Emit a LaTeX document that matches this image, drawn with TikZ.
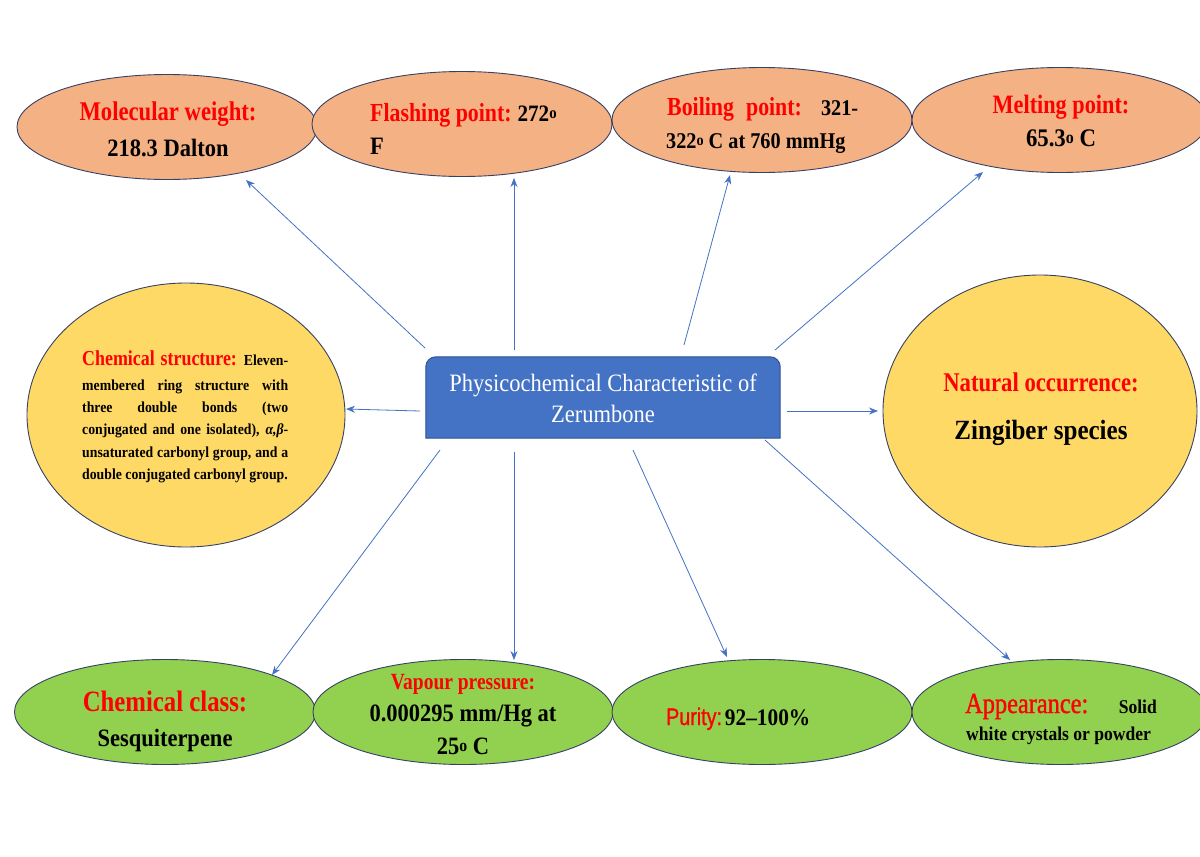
\documentclass[tikz,border=0pt]{standalone}
\usepackage{fontspec}
\usepackage{graphicx}
\usetikzlibrary{shapes.geometric,arrows.meta}
\setmainfont{Liberation Serif}
\newfontfamily\rs{Liberation Serif}[FakeStretch=0.84]
\newfontfamily\rsm{Liberation Serif}[FakeStretch=0.84, FakeBold=1.2]
\newfontfamily\bs{Liberation Serif}[FakeStretch=0.9]
\newfontfamily\ns{Liberation Sans}[FakeStretch=0.82, FakeBold=1]
\newcommand\rl[2]{{\color{red}\rs\bfseries\fontsize{#1}{#1}\selectfont #2}}
\newcommand\rlr[2]{{\color{red}\rsm\fontsize{#1}{#1}\selectfont #2}}
\newcommand\bl[2]{{\bs\bfseries\fontsize{#1}{#1}\selectfont #2}}
\newcommand\dg{\raisebox{0.22ex}{\scalebox{0.7}{o}}}
\definecolor{edge}{RGB}{55,65,100}
\definecolor{orfill}{RGB}{244,177,131}
\definecolor{yefill}{RGB}{255,217,102}
\definecolor{grfill}{RGB}{146,208,80}
\definecolor{boxfill}{RGB}{68,114,196}
\definecolor{boxedge}{RGB}{47,82,143}
\definecolor{arrowc}{RGB}{68,114,196}
\begin{document}
\begin{tikzpicture}[x=1pt,y=1pt,
  ell/.style={ellipse, draw=edge, line width=0.9pt, inner sep=0pt},
  oell/.style={ell, fill=orfill, minimum width=300pt, minimum height=105pt},
  gell/.style={ell, fill=grfill, minimum width=300pt, minimum height=105pt},
  yell/.style={ell, fill=yefill},
  txt/.style={inner sep=0pt, anchor=base},
  txtw/.style={inner sep=0pt, anchor=base west},
  txte/.style={inner sep=0pt, anchor=base east},
  arr/.style={draw=arrowc, line width=0.8pt, -{Stealth[length=9pt,width=7pt]}}]
\useasboundingbox (0,0) rectangle (1200,-857);
\fill[white] (0,0) rectangle (1200,-857);

% top ellipses
\node[oell] (mw) at (167,-127) {};
\node[oell] (fp) at (462,-124) {};
\node[oell] (bp) at (762,-120) {};
\node[oell, minimum width=296pt] (mp) at (1060,-120) {};
% side ellipses
\node[yell, minimum width=318pt, minimum height=264pt] (cs) at (186,-415) {};
\node[yell, minimum width=314pt, minimum height=272pt] (no) at (1040,-411) {};
% bottom ellipses
\node[gell, minimum width=301pt] (cc) at (165,-712) {};
\node[gell] (vp) at (463,-712) {};
\node[gell] (pu) at (762,-712) {};
\node[gell, minimum width=296pt] (ap) at (1060,-712) {};

% central box
\node[inner sep=0pt, minimum width=354pt, minimum height=81pt] (box) at (603,-397.5) {};
\filldraw[fill=boxfill, draw=boxedge, line width=1pt]
  (box.south west) -- ([yshift=-10pt]box.north west)
  arc[start angle=180, end angle=90, radius=10pt]
  -- ([xshift=-10pt]box.north east)
  arc[start angle=90, end angle=0, radius=10pt]
  -- (box.south east) -- cycle;
\node[txt, text=white, font=\bs\fontsize{25}{25}\selectfont] (bx1) at (603,-391) {Physicochemical Characteristic of};
\node[txt, text=white, font=\bs\fontsize{25}{25}\selectfont] (bx2) at (603,-422) {Zerumbone};

% texts top
\node[txt] (mw1) at (168,-120) {\rl{27}{Molecular weight:}};
\node[txt] (mw2) at (168,-156) {\bl{25}{218.3 Dalton}};
\node[txtw] (fp1) at (370,-121) {\rl{26}{Flashing point:}\hspace{6pt}\bl{23.5}{272\dg}};
\node[txtw] (fp2) at (370,-154) {\bl{25}{F}};
\node[txtw, font=\bs\bfseries\fontsize{22.5}{22.5}\selectfont] (bp1) at (667,-115) {\makebox[191pt][s]{\rl{26}{Boiling point:} 321-}};
\node[txtw] (bp2) at (666,-148) {\bl{22.5}{322\dg{} C at 760 mmHg}};
\node[txt] (mp1) at (1061,-113) {\rl{26.5}{Melting point:}};
\node[txt] (mp2) at (1061,-146) {\bl{25.3}{65.3\dg{} C}};

% side texts
\begin{scope}[every node/.append style={font=\bs\bfseries\fontsize{15.3}{15.3}\selectfont}]
\node[txtw] (cs1) at (82,-365) {\makebox[206pt][s]{\rl{21.3}{Chemical structure:} Eleven-}};
\node[txtw] (cs2) at (82,-390) {\makebox[206pt][s]{membered ring structure with}};
\node[txtw] (cs3) at (82,-412) {\makebox[206pt][s]{three double bonds (two}};
\node[txtw] (cs4) at (82,-434) {\makebox[206pt][s]{conjugated and one isolated), \textit{α,β}-}};
\node[txtw] (cs5) at (82,-457) {\makebox[206pt][s]{unsaturated carbonyl group, and a}};
\node[txtw] (cs6) at (82,-479) {double conjugated carbonyl group.};
\end{scope}
\node[txt] (no1) at (1041,-391) {\rl{27}{Natural occurrence:}};
\node[txt] (no2) at (1041,-439) {\bl{27.8}{Zingiber species}};

% bottom texts
\node[txt] (cc1) at (165,-711) {\rl{29.5}{Chemical class:}};
\node[txt] (cc2) at (165,-746) {\bl{25}{Sesquiterpene}};
\node[txt] (vp1) at (463,-689) {\rl{23.2}{Vapour pressure:}};
\node[txt] (vp2) at (463,-721) {\bl{25}{0.000295 mm/Hg at}};
\node[txt] (vp3) at (463,-754) {\bl{25}{25\dg{} C}};
\node[txtw] (pu1) at (666,-725) {{\color{red}\ns\fontsize{24}{24}\selectfont Purity:}\hspace{3pt}\bl{23.7}{92–100\%}};
\node[txtw] (ap1) at (965,-713) {\rlr{29}{Appearance:}};
\node[txte] (ap2) at (1157,-713) {\bl{19.5}{Solid}};
\node[txtw] (ap3) at (966,-740) {\bl{19.5}{white crystals or powder}};

% arrow end points
\coordinate (s1) at (425,-348); \coordinate (e1) at (246,-180);
\coordinate (s2) at (514,-350); \coordinate (e2) at (514,-178);
\coordinate (s3) at (684,-345); \coordinate (e3) at (730,-175);
\coordinate (s4) at (775,-350); \coordinate (e4) at (983,-172);
\coordinate (s5) at (420,-411); \coordinate (e5) at (346,-409);
\coordinate (s6) at (787,-411); \coordinate (e6) at (878,-411);
\coordinate (s7) at (440,-450); \coordinate (e7) at (272,-675);
\coordinate (s8) at (514,-452); \coordinate (e8) at (514,-660);
\coordinate (s9) at (633,-450); \coordinate (e9) at (727,-657);
\coordinate (s10) at (765,-440); \coordinate (e10) at (1010,-660);
\foreach \i in {1,...,10} { \draw[arr] (s\i) -- (e\i); }
\end{tikzpicture}
\end{document}
